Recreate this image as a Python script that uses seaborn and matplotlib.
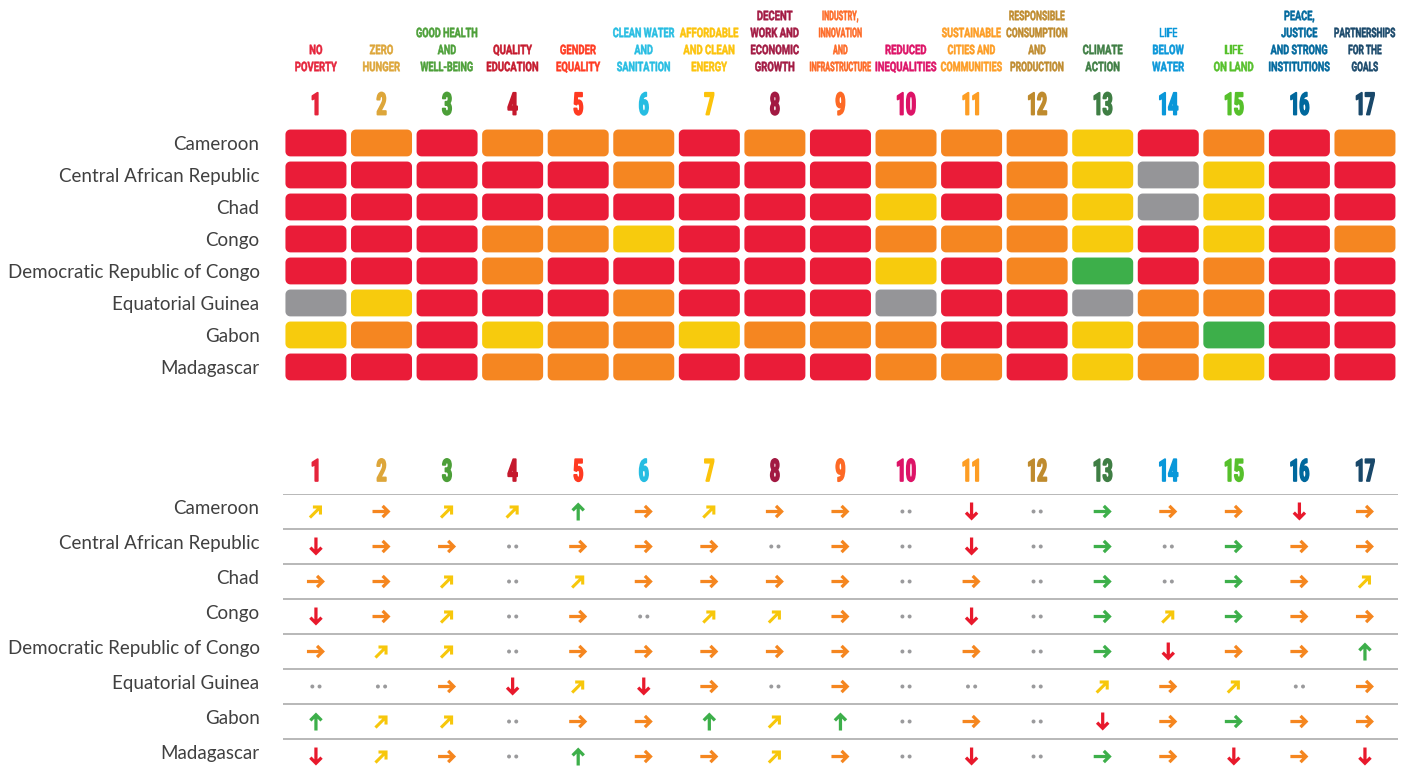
import numpy as np
import pandas as pd
import matplotlib.pyplot as plt
import seaborn as sns
from matplotlib.path import Path
from matplotlib.markers import MarkerStyle
from matplotlib.text import Text
from matplotlib.transforms import Affine2D, Bbox, ScaledTranslation
from matplotlib.patheffects import AbstractPathEffect

countries = ["Cameroon", "Central African Republic", "Chad", "Congo",
             "Democratic Republic of Congo", "Equatorial Guinea", "Gabon", "Madagascar"]
goals = list(range(1, 18))
goal_names = ["NO\nPOVERTY", "ZERO\nHUNGER", "GOOD HEALTH\nAND\nWELL-BEING",
              "QUALITY\nEDUCATION", "GENDER\nEQUALITY", "CLEAN WATER\nAND\nSANITATION",
              "AFFORDABLE\nAND CLEAN\nENERGY", "DECENT\nWORK AND\nECONOMIC\nGROWTH",
              "INDUSTRY,\nINNOVATION\nAND\nINFRASTRUCTURE", "REDUCED\nINEQUALITIES",
              "SUSTAINABLE\nCITIES AND\nCOMMUNITIES", "RESPONSIBLE\nCONSUMPTION\nAND\nPRODUCTION",
              "CLIMATE\nACTION", "LIFE\nBELOW\nWATER", "LIFE\nON LAND",
              "PEACE,\nJUSTICE\nAND STRONG\nINSTITUTIONS", "PARTNERSHIPS\nFOR THE\nGOALS"]
goal_colors = ["#E5243B", "#DDA63A", "#4C9F38", "#C5192D", "#FF3A21", "#26BDE2",
               "#FCC30B", "#A21942", "#FD6925", "#DD1367", "#FD9D24", "#BF8B2E",
               "#3F7E44", "#0A97D9", "#56C02B", "#00689D", "#19486A"]

# dashboard: r=major challenges, o=significant, y=challenges remain, g=achieved, x=no data
dashboard = [
    "r o r o o o r o r o o o y r o r o",
    "r r r r r o r r r o r o y x y r r",
    "r r r r r r r r r y r o y x y r r",
    "r r r o o y r r r o o o y r y r o",
    "r r r o r r r r r y r o g r o r r",
    "x y r r r o r r r x r r x o o r r",
    "y o r y o o y o o o r r y o g r r",
    "r r r o o o r r r o o r y o y r r",
]
# trends: u=on track up, t=maintaining, m=moderately improving, s=stagnating, d=decreasing, n=no data
trends = [
    "m s m m u s m s s n d n t s s d s",
    "d s s n s s s n s n d n t n t s s",
    "s s m n m s s s s n s n t n t s m",
    "d s m n s n m m s n d n t m t s s",
    "s m m n s s s s s n s n t d s s u",
    "n n s d m d s n s n n n m s m n s",
    "u m m n s s u m u n s n d s t s s",
    "d m s n u s s m s n d n t s d s d",
]

status_colors = {"r": "#EA1C38", "o": "#F58621", "y": "#F7CB0D", "g": "#3DAF4A", "x": "#959598"}
trend_colors = {"u": "#3DAF4A", "t": "#3DAF4A", "m": "#F7C70B", "s": "#F5861F",
                "d": "#E8192C", "n": "#9A9A9C"}

sns.set_theme(style="white")
plt.rcParams["font.family"] = ["Roboto", "DejaVu Sans"]

n_rows = len(countries)
df_dash = pd.DataFrame({
    "goal": np.tile(goals, n_rows),
    "row": np.repeat(np.arange(n_rows), len(goals)),
    "status": [c for line in dashboard for c in line.split()],
})
df_trend = pd.DataFrame({
    "goal": np.tile(goals, n_rows),
    "row": np.repeat(np.arange(n_rows), len(goals)),
    "trend": [c for line in trends for c in line.split()],
})


class Squeeze(AbstractPathEffect):
    # narrows glyphs horizontally around x=cx and thickens them a little
    def __init__(self, cx, sx, lw=0.0):
        super().__init__()
        self.cx, self.sx, self.lw = cx, sx, lw

    def draw_path(self, renderer, gc, tpath, affine, rgbFace=None):
        sq = Affine2D().translate(-self.cx, 0).scale(self.sx, 1).translate(self.cx, 0)
        gc0 = renderer.new_gc()
        gc0.copy_properties(gc)
        if self.lw and rgbFace is not None:
            gc0.set_linewidth(self.lw)
            gc0.set_foreground(rgbFace)
            gc0.set_joinstyle("round")
        renderer.draw_path(gc0, tpath, affine + sq, rgbFace)
        gc0.restore()


class CondensedText(Text):
    # centred text drawn in a condensed style; its extent is the condensed one
    def __init__(self, *args, sx=0.6, max_w=None, stroke=0.0, **kwargs):
        super().__init__(*args, **kwargs)
        self.sx, self.max_w, self.stroke = sx, max_w, stroke

    def _factor(self, width):
        if self.max_w and width > 0:
            return min(self.sx, self.max_w / width)
        return self.sx

    def get_window_extent(self, renderer=None, dpi=None):
        bb = super().get_window_extent(renderer, dpi)
        f = self._factor(bb.width)
        cx = bb.x0 + bb.width / 2
        return Bbox.from_extents(cx - bb.width * f / 2, bb.y0, cx + bb.width * f / 2, bb.y1)

    def draw(self, renderer):
        w = super().get_window_extent(renderer).width
        cx = self.get_transform().transform(self.get_unitless_position())[0]
        self.set_path_effects([Squeeze(cx, self._factor(w), self.stroke)])
        super().draw(renderer)


def rounded_box(hw=1.0, hh=0.44, r=0.16, n=8):
    verts = []
    for cx, cy, a0 in [(hw - r, hh - r, 0), (-hw + r, hh - r, 90),
                       (-hw + r, -hh + r, 180), (hw - r, -hh + r, 270)]:
        t = np.radians(np.linspace(a0, a0 + 90, n))
        verts += list(zip(cx + r * np.cos(t), cy + r * np.sin(t)))
    verts.append(verts[0])
    codes = [Path.MOVETO] + [Path.LINETO] * (len(verts) - 2) + [Path.CLOSEPOLY]
    return Path(verts, codes)


arrow = Path([(-1, -0.18), (0.31, -0.18), (-0.005, -0.495), (0.25, -0.75), (1, 0),
              (0.25, 0.75), (-0.005, 0.495), (0.31, 0.18), (-1, 0.18), (-1, -0.18)],
             [Path.MOVETO] + [Path.LINETO] * 8 + [Path.CLOSEPOLY])
dots = Path.make_compound_path(Path.circle((-0.62, 0), 0.34), Path.circle((0.62, 0), 0.34))

trend_markers = {
    "u": MarkerStyle(arrow, transform=Affine2D().rotate_deg(90)),
    "t": MarkerStyle(arrow),
    "m": MarkerStyle(arrow, transform=Affine2D().rotate_deg(45).scale(0.95)),
    "s": MarkerStyle(arrow),
    "d": MarkerStyle(arrow, transform=Affine2D().rotate_deg(-90)),
    "n": MarkerStyle(dots, transform=Affine2D().scale(0.62)),
}

fig = plt.figure(figsize=(14.13, 7.69), dpi=100)
ax_top = fig.add_axes([0.2004, 0.502, 0.7888, 0.3329])
ax_bot = fig.add_axes([0.2004, 0.0003, 0.7888, 0.3573])

# dashboard grid
sns.scatterplot(data=df_dash, x="goal", y="row", hue="status", palette=status_colors,
                marker=rounded_box(), s=1929, linewidth=0, legend=False, ax=ax_top)
ax_top.set_xlim(0.5, 17.5)
ax_top.set_ylim(n_rows - 0.5, -0.5)

# trend table
ax_bot.hlines(np.arange(n_rows) - 0.5, 0.5, 17.5, color="#a4a4a4", lw=1.1, zorder=1)
sns.scatterplot(data=df_trend, x="goal", y="row", hue="trend", palette=trend_colors,
                style="trend", markers=trend_markers, s=168, linewidth=0,
                legend=False, ax=ax_bot, zorder=3)
ax_bot.set_xlim(0.5, 17.5)
ax_bot.set_ylim(n_rows - 0.65, -0.5)

for g, name, col in zip(goals, goal_names, goal_colors):
    for ax, y in ((ax_top, -1.17), (ax_bot, -1.13)):
        ax.add_artist(CondensedText(g, y, str(g), transform=ax.transData, ha="center",
                                    va="center", fontsize=22, fontweight="bold",
                                    color=col, clip_on=False, sx=0.56, stroke=1.3))
    ax_top.add_artist(CondensedText(g, -2.15, name, transform=ax_top.transData,
                                    ha="center", va="bottom", fontsize=9.5,
                                    fontweight="bold", color=col, linespacing=1.4,
                                    clip_on=False, sx=0.72, max_w=62, stroke=0.35))

for ax in (ax_top, ax_bot):
    ax.set_xticks([])
    ax.set_yticks(range(n_rows), countries)
    ax.tick_params(axis="y", length=0, pad=17, labelsize=13.5, labelcolor="#404040")
    for lbl in ax.get_yticklabels():
        lbl.set_fontfamily(["Lato", "DejaVu Sans"])
    ax.set_xlabel("")
    ax.set_ylabel("")
    ax.set_facecolor("none")
    sns.despine(ax=ax, left=True, bottom=True)

shift = ScaledTranslation(0, 0.05, fig.dpi_scale_trans)
for lbl in ax_bot.get_yticklabels():
    lbl.set_transform(lbl.get_transform() + shift)

fig.savefig("out.png", dpi=100)
